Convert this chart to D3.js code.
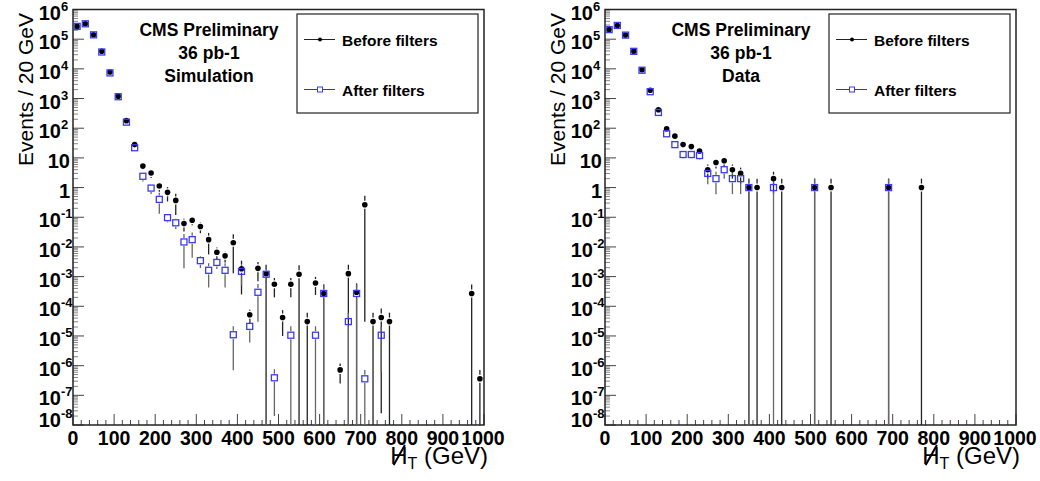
<!DOCTYPE html>
<html>
<head>
    <title>MHT before/after filters</title>
    <script src="https://d3js.org/d3.v7.min.js"></script>
    <style>
        body { margin: 0; background: #fff; }
        text { font-family: "Liberation Sans", Arial, sans-serif; }
    </style>
</head>
<body>
<svg width="1040" height="481"></svg>
<script>
    // ---- Simulation (left) ----
    const simBeforeHT = [10,30,50,70,90,110,130,150,170,190,210,230,250,270,290,310,330,350,370,390,410,430,450,470,490,510,530,550,570,590,610,650,670,690,710,730,750,770,970,990];
    const simBefore = [2.7e5,3.3e5,1.4e5,3.9e4,7.8e3,1.2e3,180,28,5.3,3.1,1.13,0.69,0.37,0.061,0.079,0.049,0.0176,0.0066,0.005,0.0139,0.00185,5.2e-5,0.0019,0.00126,5.5e-4,4.2e-5,5.5e-4,0.0012,3.05e-5,6.1e-4,2.7e-4,7.2e-7,0.00126,2.96e-4,0.265,3.05e-5,4.2e-5,3.05e-5,2.7e-4,3.6e-7];
    const simBeforeErr = [2000,2500,1500,800,300,80,20,5,1.2,1.0,0.4,0.35,0.25,0.028,0.025,0.02,0.012,0.003,0.002,0.0126,0.0016,2.5e-5,0.0012,0.00126,3.5e-4,3.2e-5,3.5e-4,0.0012,3.05e-5,3.7e-4,2.7e-4,4.7e-7,0.00126,2.96e-4,0.26497,3.05e-5,4.1975e-5,3.05e-5,2.7e-4,3.6e-7];

    const simAfterHT = [10,30,50,70,90,110,130,150,170,190,210,230,250,270,290,310,330,350,370,390,410,430,450,470,490,530,590,610,670,690,710,750];
    const simAfter = [2.7e5,3.3e5,1.4e5,3.7e4,7.3e3,1.15e3,160,22,2.4,0.96,0.40,0.097,0.065,0.0147,0.0176,0.00345,0.00163,0.003,0.00163,1.1e-5,0.0015,2.1e-5,2.96e-4,0.0012,3.9e-7,1.06e-5,1.06e-5,2.7e-4,3.05e-5,2.7e-4,3.6e-7,1.06e-5];
    const simAfterErr = [2000,2500,1500,800,300,80,20,4,0.8,0.35,0.27,0.03,0.025,0.0128,0.0133,0.0015,0.0012,0.0012,0.0012,1.03e-5,0.001,1.5e-5,2.66e-4,0.0012,3.7e-7,1.06e-5,1.06e-5,2.7e-4,3.05e-5,2.7e-4,3.6e-7,1.0e-5];

    // ---- Data (right) ----
    const dataBeforeHT = [10,30,50,70,90,110,130,150,170,190,210,230,250,270,290,310,330,350,370,410,430,510,550,690,770];
    const dataBefore = [2.1e5,2.9e5,1.37e5,3.95e4,9.3e3,1.9e3,420,96,54,28,24,17,4,7,8,4,3,1,1,2,1,1,1,1,1];
    const dataBeforeErr = [460,540,370,200,96,44,20,9.8,7.3,5.3,4.9,4.1,2,2.6,2.8,2,1.7,1,1,1.4,1,1,1,1,1];

    const dataAfterHT = [10,30,50,70,90,110,130,150,170,190,210,230,250,270,290,310,330,350,410,510,690];
    const dataAfter = [2.1e5,2.9e5,1.37e5,3.9e4,9.0e3,1.7e3,340,65,28,13,13,12,3,2,4,2,2,1,1,1,1];
    const dataAfterErr = [460,540,370,200,95,41,18,8.1,5.3,3.6,3.6,3.5,1.7,1.4,2,1.4,1.4,1,1,1,1];

    const xTicks = [0,100,200,300,400,500,600,700,800,900,1000];
    const yDecades = [-8,-7,-6,-5,-4,-3,-2,-1,0,1,2,3,4,5,6];
    const seriesNames = ["Before filters", "After filters"];

    const svg = d3.select("svg");
    const yTop = 9.5, yBottom = 425, plotW = 411;

    function zip(ht, v, e) {
        return ht.map((h, i) => ({ht: h, v: v[i], e: e[i]}));
    }

    function drawPanel(x0, label, before, after) {
        const g = svg.append("g");
        const x = d3.scaleLinear().domain([0, 1000]).range([x0, x0 + plotW]);
        const y = d3.scaleLog().domain([1e-8, 1e6]).range([yBottom, yTop]);

        // ticks on y axis
        yDecades.forEach(k => {
            const yy = y(Math.pow(10, k));
            g.append("line").attr("x1", x0).attr("x2", x0 + 11).attr("y1", yy).attr("y2", yy)
                .attr("stroke", "#444").attr("stroke-width", 1);
            if (k < 6) {
                for (let m = 2; m <= 9; m++) {
                    const ym = y(m * Math.pow(10, k));
                    g.append("line").attr("x1", x0).attr("x2", x0 + 5).attr("y1", ym).attr("y2", ym)
                        .attr("stroke", "#666").attr("stroke-width", 0.8);
                }
            }
            const by = Math.min(yy + 10, 427);
            if (k === 0 || k === 1) {
                g.append("text").attr("x", x0 - 3).attr("y", by).attr("text-anchor", "end")
                    .style("font-size", "20px").style("font-weight", "bold").text(k === 0 ? "1" : "10");
            } else {
                g.append("text").attr("x", x0 - 12).attr("y", by).attr("text-anchor", "end")
                    .style("font-size", "20px").style("font-weight", "bold").text("10");
                g.append("text").attr("x", x0 - 12).attr("y", by - 9)
                    .style("font-size", "13px").style("font-weight", "bold").text(k);
            }
        });

        // ticks on x axis
        for (let v = 0; v <= 1000; v += 20) {
            const major = v % 100 === 0;
            g.append("line").attr("x1", x(v)).attr("x2", x(v))
                .attr("y1", yBottom).attr("y2", yBottom - (major ? 11 : 5))
                .attr("stroke", "#444").attr("stroke-width", 1);
        }
        xTicks.forEach(v => {
            g.append("text").attr("x", x(v) + (v === 1000 ? -1 : 0)).attr("y", 445).attr("text-anchor", "middle")
                .style("font-size", "19.5px").style("font-weight", "bold").text(v);
        });

        // frame
        g.append("rect").attr("x", x0).attr("y", yTop).attr("width", plotW).attr("height", yBottom - yTop)
            .attr("fill", "none").attr("stroke", "#222").attr("stroke-width", 1.5);

        // error bars
        const gap = 4;
        function bars(pts, color) {
            pts.forEach(p => {
                const yc = y(p.v);
                const lo = p.v - p.e;
                const yl = lo > 1e-8 ? y(lo) : yBottom;
                const yh = y(p.v + p.e);
                if (yc - gap > yh) {
                    g.append("line").attr("x1", x(p.ht)).attr("x2", x(p.ht)).attr("y1", yh).attr("y2", yc - gap)
                        .attr("stroke", color).attr("stroke-width", 1.3);
                }
                if (yl > yc + gap) {
                    g.append("line").attr("x1", x(p.ht)).attr("x2", x(p.ht)).attr("y1", yc + gap).attr("y2", yl)
                        .attr("stroke", color).attr("stroke-width", 1.3);
                }
            });
        }
        bars(before, "#222");
        bars(after, "#666");

        g.selectAll(".dot").data(before).enter().append("circle")
            .attr("cx", d => x(d.ht)).attr("cy", d => y(d.v)).attr("r", 2.8).attr("fill", "#000");
        g.selectAll(".sq").data(after).enter().append("rect")
            .attr("x", d => x(d.ht) - 3).attr("y", d => y(d.v) - 3).attr("width", 6).attr("height", 6)
            .attr("fill", "none").attr("stroke", "#3b3bf5").attr("stroke-width", 1.3);

        // labels in plot
        const cx = x0 + 136;
        ["CMS Preliminary", "36 pb-1", label].forEach((t, i) => {
            g.append("text").attr("x", cx).attr("y", 36 + i * 23).attr("text-anchor", "middle")
                .style("font-size", "17.5px").style("font-weight", "bold").text(t);
        });

        // legend
        const lx = x0 + 224;
        g.append("rect").attr("x", lx).attr("y", 14).attr("width", 181).attr("height", 99)
            .attr("fill", "#fff").attr("stroke", "#222").attr("stroke-width", 1.2);
        const ly = [39.5, 89.5];
        ly.forEach((yy, i) => {
            g.append("line").attr("x1", lx + 7).attr("x2", lx + 38).attr("y1", yy).attr("y2", yy)
                .attr("stroke", i === 0 ? "#222" : "#444").attr("stroke-width", 1);
            if (i === 0) {
                g.append("circle").attr("cx", lx + 23).attr("cy", yy).attr("r", 2).attr("fill", "#000");
            } else {
                g.append("rect").attr("x", lx + 20.5).attr("y", yy - 2.5).attr("width", 5).attr("height", 5)
                    .attr("fill", "#fff").attr("stroke", "#3b3bf5").attr("stroke-width", 1);
            }
            g.append("text").attr("x", lx + 45).attr("y", yy + 6.5)
                .style("font-size", "15.5px").style("font-weight", "bold").text(seriesNames[i]);
        });

        // axis titles
        g.append("text").attr("transform", `translate(${x0 - 40},13) rotate(-90)`)
            .attr("text-anchor", "end").style("font-size", "21px").text("Events / 20 GeV");

        const xt = g.append("text").attr("x", x0 + plotW + 4).attr("y", 464).attr("text-anchor", "end")
            .style("font-size", "24px");
        xt.append("tspan").text("H");
        xt.append("tspan").attr("dy", 5).style("font-size", "16px").text("T");
        xt.append("tspan").attr("dy", -5).text(" (GeV)");
        const hb = xt.node().getExtentOfChar(0);
        g.append("line")
            .attr("x1", hb.x + hb.width * 0.2).attr("y1", 465)
            .attr("x2", hb.x + hb.width * 0.85).attr("y2", 445)
            .attr("stroke", "#000").attr("stroke-width", 2);
    }

    drawPanel(73, "Simulation",
        zip(simBeforeHT, simBefore, simBeforeErr),
        zip(simAfterHT, simAfter, simAfterErr));
    drawPanel(605, "Data",
        zip(dataBeforeHT, dataBefore, dataBeforeErr),
        zip(dataAfterHT, dataAfter, dataAfterErr));
</script>
</body>
</html>
